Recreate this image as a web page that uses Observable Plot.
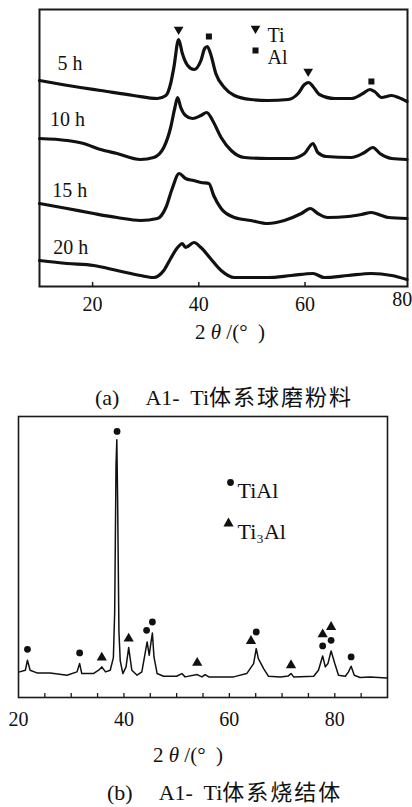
<!DOCTYPE html>
<html>
<head>
<meta charset="utf-8">
<script src="https://cdn.jsdelivr.net/npm/d3@7"></script>
<script src="https://cdn.jsdelivr.net/npm/@observablehq/plot@0.6"></script>
<style>
  html, body { margin: 0; padding: 0; background: #fff; }
  #page { position: relative; width: 412px; height: 807px; overflow: hidden; font-family: "Liberation Serif", "Noto Sans CJK SC", serif; color: #111; }
  .abs { position: absolute; white-space: nowrap; }
  .axt { font-size: 21px; line-height: 22px; }
  .cap { font-size: 22px; line-height: 24px; }
  .cap .lat { margin-left: 26px; }
  .cap .cn { font-family: "Noto Sans CJK SC", sans-serif; letter-spacing: 2px; font-size: 22px; }
  svg { display: block; }
</style>
</head>
<body>
<div id="page">
  <div id="chartA" class="abs" style="left:0;top:0"></div>
  <div class="abs axt" style="left:195px;top:321px">2 <i>θ</i> /(°&nbsp;&nbsp;)</div>
  <div class="abs cap" style="left:95px;top:383px">(a)<span class="lat">A1-&nbsp; Ti</span><span class="cn">体系球磨粉料</span></div>
  <div id="chartB" class="abs" style="left:0;top:406px"></div>
  <div class="abs axt" style="left:153px;top:744px">2 <i>θ</i> /(°&nbsp;&nbsp;)</div>
  <div class="abs cap" style="left:107px;top:778px">(b)<span class="lat">A1-&nbsp; Ti</span><span class="cn">体系烧结体</span></div>
</div>
<script>
// ---------- Panel (a): ball-milled powder, [2θ, intensity a.u. incl. offset] ----------
const curve5h = [[10,206],[17.7,199],[21.5,196],[27.7,191],[32.2,188],[33.8,191],[34.7,203],[35.3,219],[36.2,247],[36.9,233],[37.9,221],[39.1,217],[40.4,226],[41.1,238],[41.6,240],[42.2,233],[43.2,213],[44.8,199],[46.7,191],[49.8,187],[53,186],[56.8,187],[58.7,193],[59.9,202],[60.7,204],[61.5,200],[62.7,192],[65.6,188],[68.7,188],[70.9,193],[72.2,197],[73.1,195],[74.4,189],[76.3,191],[77.6,189],[79.2,185]];
const curve10h = [[10,148],[15.2,146],[18.3,143],[21.5,137],[24.6,133],[29,127],[31.5,129],[33.4,139],[34.7,159],[35.5,179],[36,189],[36.6,179],[37.5,171],[38.8,168],[40.4,171],[41.5,174],[42.6,166],[44.2,149],[46.1,136],[48.6,129],[53,128],[57.4,128],[59.9,133],[61.5,143],[62.4,134],[64,130],[68.7,129],[71.2,134],[72.8,139],[74.1,133],[76.3,128],[79.2,127]];
const curve15h = [[10,83],[15.2,78],[20.2,73],[24.6,69],[29,66],[32.2,68],[33.8,79],[35,98],[36.3,113],[37.5,108],[39,106],[40.4,104],[41.9,103],[42.8,91],[44.2,78],[46.7,69],[49.8,66],[53,63],[56.1,66],[59.3,73],[61,78],[62.4,73],[64.3,69],[68.1,70],[70.6,72],[72.5,74],[74.4,71],[75.7,69],[79.2,68]];
const curve20h = [[10,26],[15.2,23],[20.2,21],[24.6,16],[29,11],[31.5,9],[33.4,16],[34.7,28],[36,39],[36.9,43],[37.5,39],[39.1,44],[40.4,39],[42.2,28],[44.2,16],[46.7,9],[53,9],[57.4,11],[61.5,13],[63.6,9],[68.1,11],[72.5,13],[76.3,11],[79.2,7]];
const seriesNamesA = ["5 h", "10 h", "15 h", "20 h"];
const labelPosA = [[13.4,223],[12,167],[12.4,96],[12.6,39]];
const tiPeaksA = [[36.2,257],[60.6,215]];
const alPeaksA = [[41.9,250],[72.5,205]];
const ticksA = [20, 40, 60];
const edgeTickA = [80];

// ---------- Panel (b): sintered body ----------
const curveB = [[20.2,77],[21.3,82],[21.7,112],[22.2,82],[23.5,74],[26,74],[29.2,67],[31.1,77],[31.6,102],[32,72],[34.2,72],[35.2,82],[35.8,92],[36.5,77],[37.4,82],[38,120],[38.25,260],[38.5,700],[38.65,775],[38.8,600],[39.05,200],[39.3,110],[39.8,72],[40.4,92],[40.9,150],[41.5,82],[42.5,67],[43.4,77],[43.9,122],[44.4,167],[44.8,127],[45.1,162],[45.4,194],[45.7,122],[46.3,72],[47.5,64],[50,64],[51,72],[51.6,62],[53.9,69],[54.8,62],[55.4,69],[56.1,62],[60.8,62],[63.3,72],[64.6,102],[65.1,147],[65.5,117],[66.5,87],[67.4,64],[69.7,62],[71.2,65],[71.7,72],[72.2,62],[76,64],[76.9,82],[77.7,125],[78.2,92],[78.7,102],[79.3,140],[80,102],[80.7,67],[82,64],[82.6,77],[83.1,94],[83.7,67],[84.8,60],[86.7,62],[89.9,59]];
const tiAlPeaksB = [[21.7,145],[31.6,134],[38.7,800],[44.3,202],[45.4,227],[65.1,197],[77.7,155],[79.3,172],[83.1,122]];
const ti3AlPeaksB = [[35.8,120],[40.9,177],[53.9,104],[64.1,170],[71.7,97],[77.7,190],[79.3,212]];
const tickLabelsB = [20, 40, 60, 80];
const minorTicksB = [25, 30, 35, 40, 45, 50, 55, 60, 65, 70, 75, 80, 85];

const serif = "Liberation Serif, Times New Roman, serif";

const curvesA = [curve5h, curve10h, curve15h, curve20h];
const tableA = curvesA.flatMap((c, i) => c.map(([x, y]) => ({x, y, s: seriesNamesA[i]})));
const labelsA = seriesNamesA.map((s, i) => ({s, x: labelPosA[i][0], y: labelPosA[i][1]}));

const hA = 316, mtA = 9, mbA = 30;
const chartA = Plot.plot({
  width: 412, height: hA,
  marginTop: mtA, marginBottom: mbA, marginLeft: 39, marginRight: 5,
  x: {domain: [10, 79.3]},
  y: {domain: [0, 277], axis: null},
  style: {fontFamily: serif, fontSize: "20px", color: "#111", background: "transparent", overflow: "visible"},
  marks: [
    Plot.frame({stroke: "#1a1a1a", strokeWidth: 2}),
    Plot.tickX(ticksA, {x: d => d, insetTop: hA - mtA - mbA - 4, stroke: "#1a1a1a", strokeWidth: 1.5}),
    Plot.axisX({ticks: ticksA, tickSize: 0, tickPadding: 10, tickFormat: d => d, label: null, fontSize: 20}),
    Plot.text(edgeTickA, {x: d => d, frameAnchor: "bottom", dy: 19, dx: 1, text: d => d, textAnchor: "end", fontSize: 20}),
    Plot.line(tableA, {x: "x", y: "y", z: "s", stroke: "#111", strokeWidth: 3.2, curve: "monotone-x"}),
    Plot.text(labelsA, {x: "x", y: "y", text: "s", textAnchor: "start", fontSize: 20}),
    Plot.dot(tiPeaksA, {x: d => d[0], y: d => d[1], symbol: "triangle", rotate: 180, r: 3.6, fill: "#111", stroke: "none"}),
    Plot.dot(alPeaksA, {x: d => d[0], y: d => d[1], symbol: "square", r: 3.4, fill: "#111", stroke: "none"}),
    // legend
    Plot.dot(["Ti"], {frameAnchor: "top-left", dx: 216, dy: 19, symbol: "triangle", rotate: 180, r: 3.6, fill: "#111", stroke: "none"}),
    Plot.text(["Ti"], {frameAnchor: "top-left", dx: 228, dy: 18, text: d => d, textAnchor: "start", fontSize: 20}),
    Plot.dot(["Al"], {frameAnchor: "top-left", dx: 216, dy: 41, symbol: "square", r: 3.4, fill: "#111", stroke: "none"}),
    Plot.text(["Al"], {frameAnchor: "top-left", dx: 228, dy: 40, text: d => d, textAnchor: "start", fontSize: 20})
  ]
});
document.getElementById("chartA").appendChild(chartA);

const tableB = curveB.map(([x, y]) => ({x, y}));
const hB = 326, mtB = 10, mbB = 35;
const chartB = Plot.plot({
  width: 412, height: hB,
  marginTop: mtB, marginBottom: mbB, marginLeft: 18, marginRight: 25,
  x: {domain: [20, 90]},
  y: {domain: [0, 845], axis: null},
  style: {fontFamily: serif, fontSize: "20px", color: "#111", background: "transparent", overflow: "visible"},
  marks: [
    Plot.frame({stroke: "#1a1a1a", strokeWidth: 1.6}),
    Plot.tickX(minorTicksB, {x: d => d, insetTop: hB - mtB - mbB - 4, stroke: "#1a1a1a", strokeWidth: 1.3}),
    Plot.axisX({ticks: tickLabelsB, tickSize: 0, tickPadding: 14, tickFormat: d => d, label: null, fontSize: 20}),
    Plot.line(tableB, {x: "x", y: "y", stroke: "#111", strokeWidth: 1.5}),
    Plot.dot(tiAlPeaksB, {x: d => d[0], y: d => d[1], symbol: "circle", r: 3.4, fill: "#111", stroke: "none"}),
    Plot.dot(ti3AlPeaksB, {x: d => d[0], y: d => d[1], symbol: "triangle", r: 3.8, fill: "#111", stroke: "none"}),
    // legend
    Plot.dot(["TiAl"], {frameAnchor: "top-left", dx: 212, dy: 66, symbol: "circle", r: 3.4, fill: "#111", stroke: "none"}),
    Plot.text(["TiAl"], {frameAnchor: "top-left", dx: 219, dy: 66, text: d => d, textAnchor: "start", fontSize: 22}),
    Plot.dot(["Ti3Al"], {frameAnchor: "top-left", dx: 210, dy: 107, symbol: "triangle", r: 3.8, fill: "#111", stroke: "none"}),
    Plot.text(["Ti₃Al"], {frameAnchor: "top-left", dx: 219, dy: 107, text: d => d, textAnchor: "start", fontSize: 22})
  ]
});
document.getElementById("chartB").appendChild(chartB);
</script>
</body>
</html>
